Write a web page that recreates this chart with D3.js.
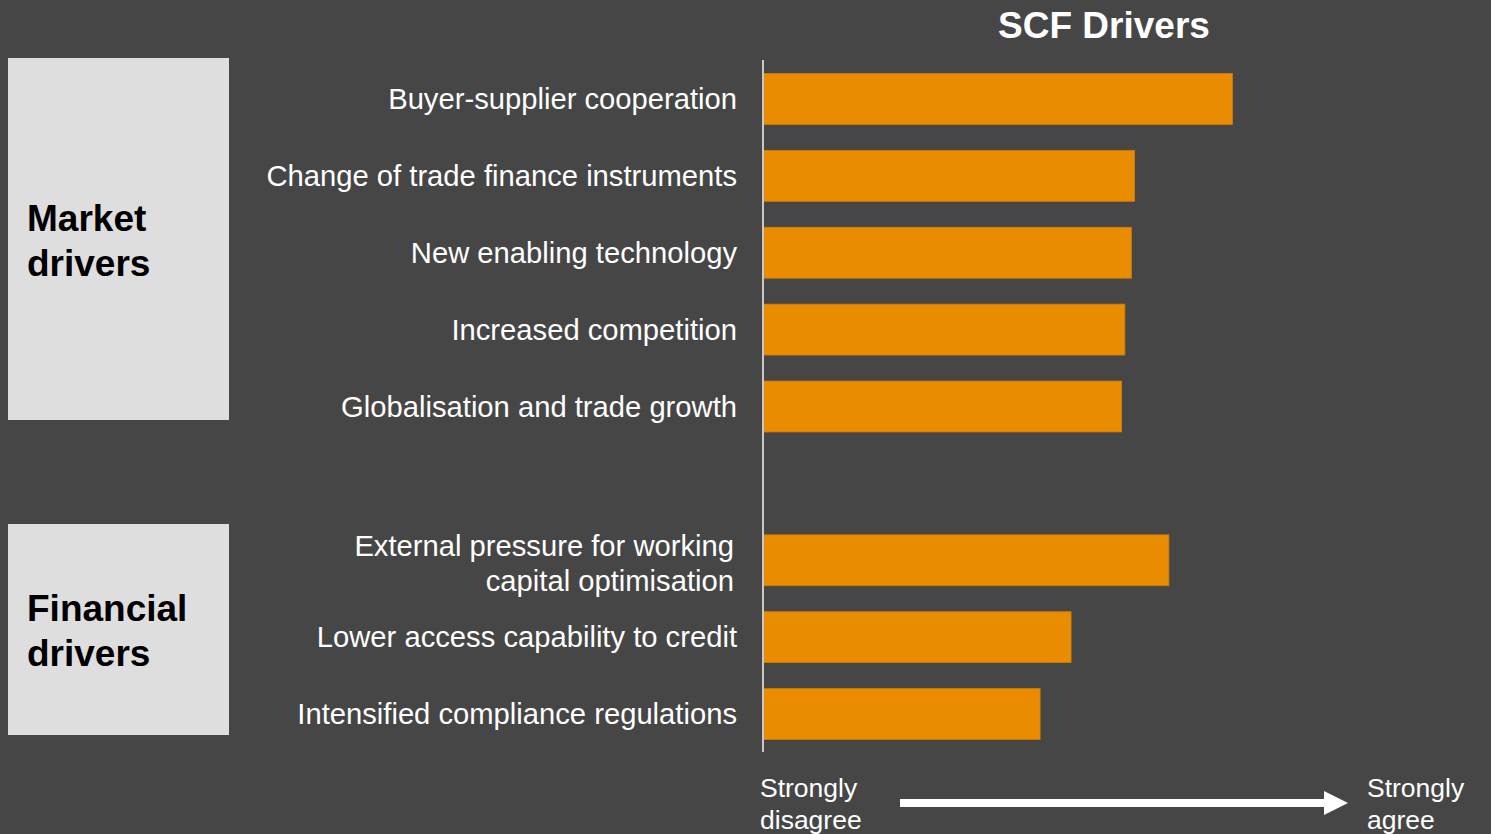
<!DOCTYPE html>
<html>
<head>
<title>SCF Drivers</title>
<script src="https://d3js.org/d3.v7.min.js"></script>
<style>
  body { margin: 0; background: #464646; }
  svg { display: block; font-family: "Liberation Sans", Arial, sans-serif; }
</style>
</head>
<body>
<div id="chart"></div>
<script type="text/javascript">

  // drivers, top to bottom
  const marketDrivers = [
    "Buyer-supplier cooperation",
    "Change of trade finance instruments",
    "New enabling technology",
    "Increased competition",
    "Globalisation and trade growth"
  ];
  const financialDrivers = [
    "External pressure for working capital optimisation",
    "Lower access capability to credit",
    "Intensified compliance regulations"
  ];
  // agreement score, 1 = strongly disagree ... 5 = strongly agree
  const marketScores = [3.88, 3.28, 3.26, 3.22, 3.20];
  const financialScores = [3.49, 2.89, 2.70];
  const groupNames = [["Market", "drivers"], ["Financial", "drivers"]];
  const scaleEnds = [["Strongly", "disagree"], ["Strongly", "agree"]];

  const width = 1491, height = 834;
  const svg = d3.select("#chart").append("svg")
    .attr("width", width)
    .attr("height", height);

  svg.append("rect").attr("width", width).attr("height", height).attr("fill", "#464646");

  // one empty slot between the two groups
  const gap = "__gap__";
  const slots = marketDrivers.concat([gap], financialDrivers);
  const rows = marketDrivers.map((d, i) => ({name: d, value: marketScores[i]}))
    .concat(financialDrivers.map((d, i) => ({name: d, value: financialScores[i]})));

  const x = d3.scaleLinear().domain([1, 5]).range([763, 1415]);
  const y = d3.scaleBand().domain(slots).range([61, 752]).paddingInner(0.338).paddingOuter(0.1625);

  // title
  svg.append("text")
    .attr("x", 1104).attr("y", 38)
    .attr("text-anchor", "middle")
    .attr("fill", "#ffffff")
    .attr("font-weight", "bold")
    .attr("font-size", 37)
    .text("SCF Drivers");

  // group boxes
  const boxes = [
    {top: 58, bottom: 420, label: groupNames[0], base: 231},
    {top: 524, bottom: 735, label: groupNames[1], base: 621}
  ];
  boxes.forEach(b => {
    svg.append("rect")
      .attr("x", 8).attr("y", b.top)
      .attr("width", 221).attr("height", b.bottom - b.top)
      .attr("fill", "#dedede");
    const t = svg.append("text")
      .attr("x", 27).attr("y", b.base)
      .attr("fill", "#000")
      .attr("font-weight", "bold")
      .attr("font-size", 37);
    b.label.forEach((line, i) => {
      t.append("tspan").attr("x", 27).attr("dy", i === 0 ? 0 : 45).text(line);
    });
  });

  // bars
  svg.selectAll("rect.bar")
    .data(rows)
    .enter().append("rect")
    .attr("class", "bar")
    .attr("x", x(1))
    .attr("y", d => y(d.name))
    .attr("width", d => x(d.value) - x(1))
    .attr("height", y.bandwidth())
    .attr("fill", "#ea8c00")
    .attr("stroke", "#cf7d08")
    .attr("stroke-width", 0.8);

  // axis line
  svg.append("line")
    .attr("x1", x(1)).attr("x2", x(1))
    .attr("y1", 60).attr("y2", 752)
    .attr("stroke", "#c8c8c8")
    .attr("stroke-width", 2);

  // category labels
  rows.forEach(d => {
    const cy = y(d.name) + y.bandwidth() / 2;
    const lines = d.name === financialDrivers[0]
      ? ["External pressure for working", "capital optimisation"]
      : [d.name];
    const t = svg.append("text")
      .attr("x", 737)
      .attr("y", cy + 10 - (lines.length - 1) * 14.5)
      .attr("text-anchor", "end")
      .attr("fill", "#ffffff")
      .attr("font-size", 29.2);
    lines.forEach((line, i) => {
      t.append("tspan").attr("x", lines.length > 1 ? 734 : 737).attr("dy", i === 0 ? 0 : 35).text(line);
    });
  });

  // scale direction at the bottom
  [760, 1367].forEach((px, i) => {
    const t = svg.append("text")
      .attr("x", px).attr("y", 797)
      .attr("fill", "#ffffff")
      .attr("font-size", 26.5);
    scaleEnds[i].forEach((line, j) => {
      t.append("tspan").attr("x", px).attr("dy", j === 0 ? 0 : 32).text(line);
    });
  });

  svg.append("line")
    .attr("x1", 900).attr("x2", 1326)
    .attr("y1", 803).attr("y2", 803)
    .attr("stroke", "#ffffff")
    .attr("stroke-width", 8);
  svg.append("path")
    .attr("d", d3.line()([[1324, 791], [1348, 803], [1324, 815]]))
    .attr("fill", "#ffffff");

</script>
</body>
</html>
